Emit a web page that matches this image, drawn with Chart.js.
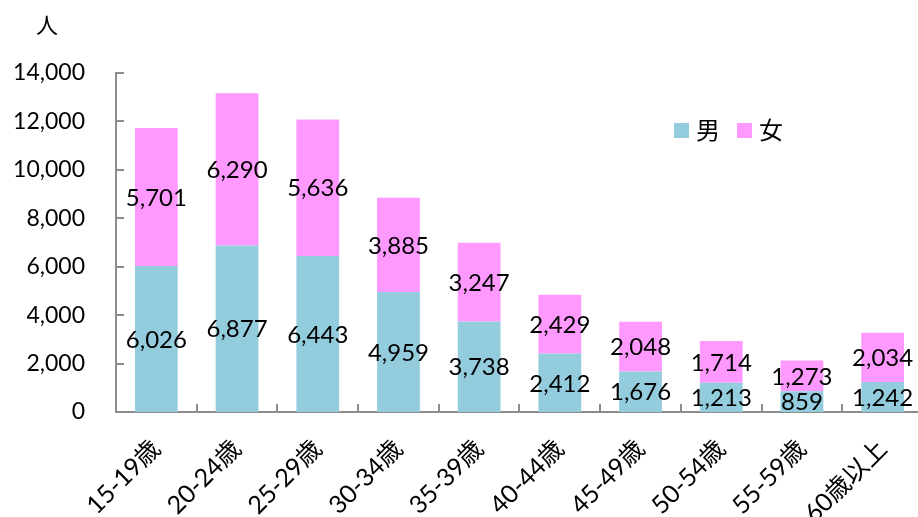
<!DOCTYPE html>
<html>
<head>
<meta charset="utf-8">
<script src="https://cdn.jsdelivr.net/npm/chart.js@4"></script>
<style>
  html, body { margin: 0; padding: 0; background: #fff; overflow: hidden; }
  #wrap { width: 926px; height: 517px; }
</style>
</head>
<body>
<div id="wrap"><canvas id="barChart"></canvas></div>
<script>
// data
const ageGroups = ['15-19歳', '20-24歳', '25-29歳', '30-34歳', '35-39歳', '40-44歳', '45-49歳', '50-54歳', '55-59歳', '60歳以上'];
const maleCounts = [6026, 6877, 6443, 4959, 3738, 2412, 1676, 1213, 859, 1242];
const femaleCounts = [5701, 6290, 5636, 3885, 3247, 2429, 2048, 1714, 1273, 2034];
const seriesNames = ['男', '女'];
const yTicks = { min: 0, max: 14000, step: 2000 };
const yUnit = '人';

const FONT = "Lato, 'Noto Sans CJK JP', sans-serif";
const axisGrey = '#8c8c8c';

// labels in the middle of each bar segment, inner tick marks, unit and legend
const extras = {
  id: 'extras',
  afterDatasetsDraw(chart) {
    const ctx = chart.ctx;
    ctx.save();
    ctx.font = '24px ' + FONT;
    ctx.fillStyle = '#000';
    ctx.textAlign = 'center';
    ctx.textBaseline = 'middle';
    chart.data.datasets.forEach((ds, i) => {
      chart.getDatasetMeta(i).data.forEach((bar, j) => {
        const y = (bar.y + bar.base) / 2;
        ctx.fillText(ds.data[j].toLocaleString('en-US'), bar.x, y + 1);
      });
    });
    ctx.restore();
  },
  afterDraw(chart) {
    const ctx = chart.ctx;
    const x = chart.scales.x;
    const y = chart.scales.y;
    const area = chart.chartArea;
    ctx.save();
    ctx.strokeStyle = axisGrey;
    ctx.lineWidth = 2;
    ctx.beginPath();
    // y ticks point inward
    for (let v = yTicks.min; v <= yTicks.max; v += yTicks.step) {
      const py = Math.round(y.getPixelForValue(v));
      ctx.moveTo(area.left, py);
      ctx.lineTo(area.left + 8, py);
    }
    // x ticks between categories
    for (let i = 1; i < ageGroups.length; i++) {
      const px = Math.round((x.getPixelForValue(i - 1) + x.getPixelForValue(i)) / 2);
      ctx.moveTo(px, area.bottom);
      ctx.lineTo(px, area.bottom - 8);
    }
    ctx.stroke();

    // unit
    ctx.fillStyle = '#000';
    ctx.font = '22px ' + FONT;
    ctx.textAlign = 'center';
    ctx.textBaseline = 'middle';
    ctx.fillText(yUnit, 47, 26);

    // legend
    const colors = chart.data.datasets.map(d => d.backgroundColor);
    const items = [[674, 696], [737, 759]];
    ctx.font = '24px ' + FONT;
    ctx.textAlign = 'left';
    seriesNames.forEach((name, i) => {
      ctx.fillStyle = colors[i];
      ctx.fillRect(items[i][0], 123, 15, 15);
      ctx.fillStyle = '#000';
      ctx.fillText(name, items[i][1], 131);
    });
    ctx.restore();
  }
};

const barChartCtx = document.getElementById('barChart').getContext('2d');
const barChart = new Chart(barChartCtx, {
  type: 'bar',
  data: {
    labels: ageGroups,
    datasets: [
      {
        label: seriesNames[0],
        data: maleCounts,
        backgroundColor: '#93CDDD',
      },
      {
        label: seriesNames[1],
        data: femaleCounts,
        backgroundColor: '#FF99FF',
      }
    ]
  },
  options: {
    responsive: true,
    maintainAspectRatio: false,
    animation: false,
    layout: { padding: { top: 73, right: 3, left: 0, bottom: 0 } },
    datasets: {
      bar: { barPercentage: 0.53, categoryPercentage: 1.0 }
    },
    plugins: {
      legend: { display: false },
      tooltip: { enabled: false }
    },
    scales: {
      x: {
        stacked: true,
        grid: { display: false, drawTicks: false },
        border: { color: axisGrey, width: 2 },
        ticks: {
          color: '#000',
          font: { family: FONT, size: 25 },
          maxRotation: 45,
          minRotation: 45,
          autoSkip: false,
          padding: 22
        },
        afterFit(scale) { scale.height = 105; }
      },
      y: {
        stacked: true,
        min: yTicks.min,
        max: yTicks.max,
        grid: { display: false, drawTicks: false },
        border: { color: axisGrey, width: 2 },
        ticks: {
          stepSize: yTicks.step,
          color: '#000',
          font: { family: FONT, size: 23 },
          padding: 31,
          callback: v => v.toLocaleString('en-US')
        },
        afterFit(scale) { scale.width = 116; }
      }
    }
  },
  plugins: [extras]
});
</script>
</body>
</html>
